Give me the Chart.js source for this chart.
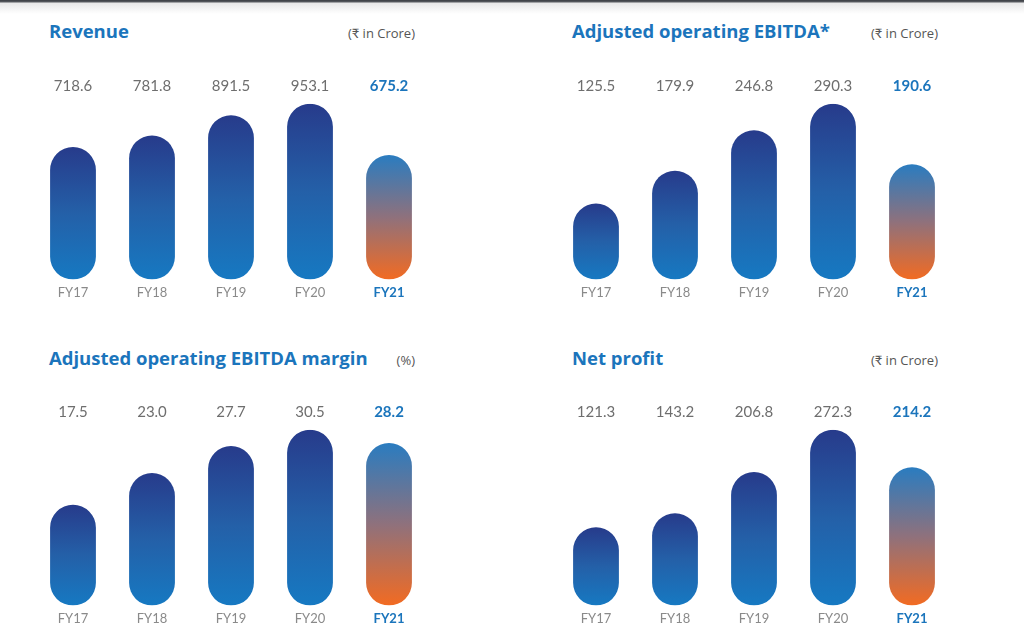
<!DOCTYPE html>
<html>
<head>
<meta charset="utf-8">
<script src="https://cdn.jsdelivr.net/npm/chart.js@4"></script>
<style>
  html, body { margin: 0; padding: 0; background: #fff; }
  body { width: 1024px; height: 638px; position: relative; overflow: hidden;
         font-family: "Open Sans", Lato, sans-serif; }
  .topline { position: absolute; left: 0; top: 0; width: 1024px; height: 14px;
             background: linear-gradient(#3a3d42 0px, #5a5d62 2px, #e8e8e8 3px, #ffffff 14px); }
  .title { position: absolute; font-weight: 700; font-size: 18.5px; line-height: 22px; color: #1b75bc; white-space: nowrap; }
  .unit { position: absolute; font-size: 13px; line-height: 16px; color: #555; white-space: nowrap; text-align: right; }
  canvas { position: absolute; }
</style>
</head>
<body>
<div class="topline"></div>

<div class="title" style="left:49px;top:20px">Revenue</div>
<div class="unit" style="right:609px;top:25px">(₹ in Crore)</div>
<canvas id="revenue" width="460" height="250" style="left:0;top:60px"></canvas>

<div class="title" style="left:572px;top:20px">Adjusted operating EBITDA*</div>
<div class="unit" style="right:86px;top:25px">(₹ in Crore)</div>
<canvas id="ebitda" width="460" height="250" style="left:523px;top:60px"></canvas>

<div class="title" style="left:49px;top:347px">Adjusted operating EBITDA margin</div>
<div class="unit" style="right:609px;top:352px">(%)</div>
<canvas id="margin" width="460" height="250" style="left:0;top:386px"></canvas>

<div class="title" style="left:572px;top:347px">Net profit</div>
<div class="unit" style="right:86px;top:352px">(₹ in Crore)</div>
<canvas id="profit" width="460" height="250" style="left:523px;top:386px"></canvas>

<script>
const years = ['FY17', 'FY18', 'FY19', 'FY20', 'FY21'];
const revenue = [718.6, 781.8, 891.5, 953.1, 675.2];
const ebitda = [125.5, 179.9, 246.8, 290.3, 190.6];
const ebitdaMargin = [17.5, 23.0, 27.7, 30.5, 28.2];
const netProfit = [121.3, 143.2, 206.8, 272.3, 214.2];

const highlight = '#1b75bc';

function barColor(ctx) {
  const chart = ctx.chart;
  if (!chart.chartArea || ctx.raw === undefined) return '#1f5fad';
  const y = chart.scales.y;
  const top = y.getPixelForValue(ctx.raw);
  const bottom = y.getPixelForValue(0);
  const g = chart.ctx.createLinearGradient(0, top, 0, bottom);
  if (ctx.dataIndex === years.length - 1) {
    g.addColorStop(0, '#2a7cc0');
    g.addColorStop(0.5, '#8f717c');
    g.addColorStop(1, '#f26b22');
  } else {
    g.addColorStop(0, '#273b8b');
    g.addColorStop(0.5, '#2460a8');
    g.addColorStop(1, '#1679c2');
  }
  return g;
}

function isLast(c) {
  return c.index === years.length - 1;
}

function chart({elementName, data}) {
  const element = document.getElementById(elementName);
  new Chart(element, {
    type: 'bar',
    data: {
      labels: years,
      datasets: [{
        data,
        backgroundColor: barColor,
        borderRadius: 60,
        borderSkipped: false,
        barPercentage: 0.58,
        categoryPercentage: 1,
      }]
    },
    options: {
      responsive: false,
      animation: false,
      devicePixelRatio: 1,
      layout: {
        padding: {left: 33.5, right: 31.5, top: 8.6, bottom: 3.6}
      },
      scales: {
        x: {
          grid: {display: false, drawTicks: false},
          border: {display: false},
          ticks: {
            padding: 5.6,
            color: c => isLast(c) ? highlight : '#8a8a8a',
            font: c => ({family: 'Lato', size: 13, weight: isLast(c) ? 'bold' : 'normal'})
          }
        },
        values: {
          type: 'category',
          position: 'top',
          labels: data.map(v => v.toFixed(1)),
          grid: {display: false, drawTicks: false},
          border: {display: false},
          ticks: {
            padding: 8.6,
            color: c => isLast(c) ? highlight : '#6e6e6e',
            font: c => ({family: 'Lato', size: 15, weight: isLast(c) ? 'bold' : 'normal'})
          }
        },
        y: {
          display: false,
          min: 0,
          max: Math.max(...data)
        }
      },
      plugins: {
        legend: {display: false},
        tooltip: {enabled: false}
      }
    }
  });
}

chart({elementName: 'revenue', data: revenue});
chart({elementName: 'ebitda', data: ebitda});
chart({elementName: 'margin', data: ebitdaMargin});
chart({elementName: 'profit', data: netProfit});
</script>
</body>
</html>
